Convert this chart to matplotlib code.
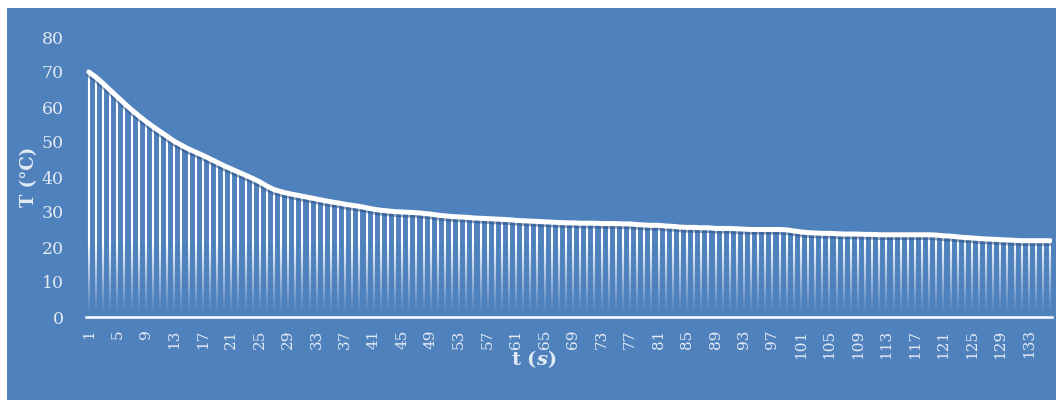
import numpy as np
import matplotlib
matplotlib.use("Agg")
import matplotlib.pyplot as plt
import matplotlib.patheffects as pe
from matplotlib.patches import Rectangle

# temperature readings, one per second
temps = [
    70.0, 68.5, 66.7, 64.8, 62.9, 61.0, 59.2, 57.5, 55.9, 54.4,
    53.0, 51.6, 50.2, 49.1, 48.0, 47.1, 46.2, 45.2, 44.2, 43.2,
    42.3, 41.4, 40.5, 39.6, 38.6, 37.4, 36.4, 35.8, 35.3, 34.9,
    34.5, 34.1, 33.7, 33.3, 32.9, 32.6, 32.2, 31.9, 31.6, 31.2,
    30.8, 30.5, 30.3, 30.1, 30.0, 29.9, 29.8, 29.6, 29.4, 29.1,
    28.9, 28.7, 28.6, 28.5, 28.3, 28.2, 28.1, 28.0, 27.9, 27.8,
    27.6, 27.5, 27.4, 27.3, 27.2, 27.1, 27.0, 26.9, 26.9, 26.8,
    26.8, 26.8, 26.7, 26.7, 26.7, 26.6, 26.6, 26.4, 26.3, 26.2,
    26.2, 26.0, 25.9, 25.7, 25.6, 25.6, 25.5, 25.5, 25.3, 25.3,
    25.3, 25.2, 25.1, 25.0, 25.0, 25.0, 25.0, 25.0, 24.9, 24.6,
    24.3, 24.1, 24.0, 23.9, 23.9, 23.8, 23.7, 23.7, 23.7, 23.6,
    23.6, 23.5, 23.5, 23.5, 23.5, 23.5, 23.5, 23.5, 23.5, 23.4,
    23.2, 23.1, 22.9, 22.7, 22.6, 22.4, 22.3, 22.2, 22.1, 22.0,
    21.9, 21.8, 21.8, 21.8, 21.8, 21.8,
]
t = np.arange(1, len(temps) + 1)
T = np.array(temps)
xticks = list(range(1, 134, 4))
yticks = list(range(0, 81, 10))

bg = "#4F81BD"
txt = "#E4EAF3"

fig = plt.figure(figsize=(10.59, 4.03), dpi=100)
fig.patch.set_facecolor("white")
fig.patches.append(Rectangle((7 / 1059, 3 / 403), 1049 / 1059, 392 / 403,
                             transform=fig.transFigure, facecolor=bg,
                             edgecolor="none", zorder=-10))

ax = fig.add_axes([86 / 1059, 1 - 317 / 403, 966 / 1059, 280 / 403])
ax.set_facecolor("none")
ax.set_zorder(2)

# drop lines fading out towards the bottom
edges = np.linspace(0, 80, 161)
for lo, hi in zip(edges[:-1], edges[1:]):
    mask = T > lo
    if not mask.any():
        continue
    a = min(1.0, max(0.0, (lo - 1.0) / 20.0)) ** 1.1
    if a <= 0:
        continue
    ax.vlines(t[mask], lo, np.minimum(T[mask], hi), colors=[(1, 1, 1, a)],
              linewidth=1.5, zorder=2)

ax.plot(t, T, color="white", linewidth=3.6, solid_capstyle="round",
        solid_joinstyle="round", zorder=3,
        path_effects=[pe.SimpleLineShadow(offset=(0, -2), shadow_color="#2a4f80", alpha=0.5),
                      pe.Normal()])

ax.set_xlim(0.6, 136.25)
ax.set_ylim(0, 80)
ax.set_xticks(xticks)
ax.set_xticklabels([str(v) for v in xticks], rotation=90, va="top", ha="center",
                   family="DejaVu Serif", fontsize=11, color=txt)
ax.set_yticks(yticks)
ax.set_yticklabels([str(v) for v in yticks], family="DejaVu Serif",
                   fontsize=12.5, color=txt)
ax.tick_params(axis="x", length=0, pad=9)
ax.tick_params(axis="y", length=0, pad=16)

for s in ["top", "right", "left"]:
    ax.spines[s].set_visible(False)
ax.spines["bottom"].set_color("white")
ax.spines["bottom"].set_linewidth(1.8)
ax.spines["bottom"].set_zorder(4)

plt.rcParams["mathtext.fontset"] = "dejavuserif"
fig.text(29 / 1059, 1 - 177 / 403, "T (°C)", rotation=90, ha="center", va="center",
         family="DejaVu Serif", fontweight="bold", fontsize=13, color=txt)
fig.text(534 / 1059, 1 - 359 / 403, r"t ($\mathbfit{s}$)", ha="center", va="center",
         family="DejaVu Serif", fontweight="bold", fontsize=14, color=txt)

fig.savefig("out.png", dpi=100, facecolor=fig.get_facecolor())
